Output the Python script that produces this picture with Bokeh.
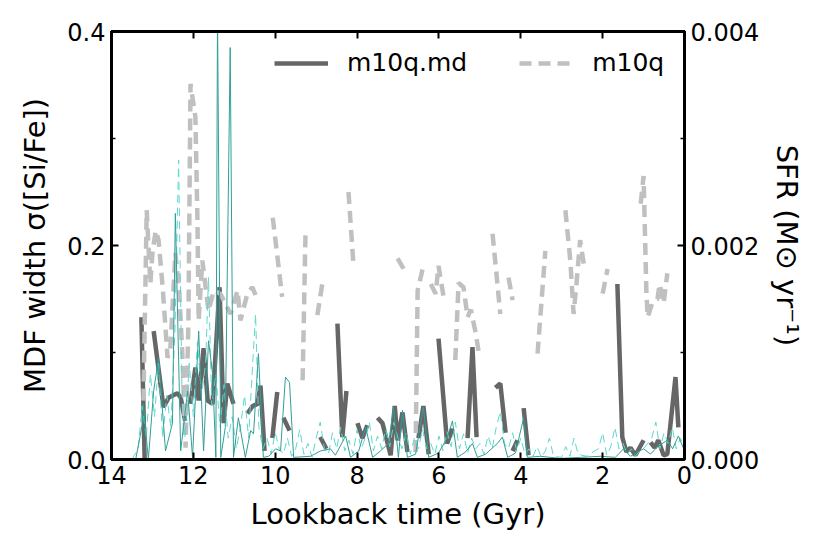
import numpy as np
from bokeh.plotting import figure
from bokeh.models import Range1d, LinearAxis, FixedTicker, Legend, LegendItem, NumeralTickFormatter
from bokeh.embed import file_html
from bokeh.resources import INLINE

nan = np.nan

# MDF width sigma([Si/Fe]) -- m10q.md (solid dark gray); NaN = gap
t_md = [13.27, 13.19, nan,
        12.97, 12.73, 12.6, 12.39, 12.31, 12.2, nan,
        12.07, 11.95, 11.87, 11.75, 11.65, 11.53, 11.36, 11.26, 11.17, 11.02, nan,
        10.68, 10.55, 10.43, 10.36, 10.26, nan,
        10.07, 9.95, nan,
        9.8, 9.65, nan,
        8.9, 8.75, nan,
        8.48, 8.36, 8.26, nan,
        7.99, 7.87, 7.75, nan,
        7.5, 7.38, 7.18, 7.08, 7.01, 6.89, 6.77, nan,
        6.5, 6.38, 6.25, nan,
        6.01, 5.8, 5.67, nan,
        5.3, 5.18, 5.08, nan,
        4.62, 4.5, 4.37, nan,
        4.2, 4.08, nan,
        3.93, 3.81, nan,
        1.64, 1.52, 1.42, 1.32, 1.2, 1.0, nan,
        0.83, 0.73, 0.64, 0.51, 0.42, 0.22, 0.15]
sig_md = [0.133, 0.0, nan,
          0.12, 0.049, 0.058, 0.062, 0.058, 0.036, nan,
          0.052, 0.086, 0.055, 0.104, 0.055, 0.052, 0.161, 0.034, 0.071, 0.052, nan,
          0.043, 0.05, 0.052, 0.069, 0.008, nan,
          0.02, 0.063, nan,
          0.039, 0.027, nan,
          0.021, 0.010, nan,
          0.127, 0.021, 0.064, nan,
          0.034, 0.02, 0.032, nan,
          0.039, 0.034, 0.004, 0.05, 0.018, 0.044, 0.007, nan,
          0.02, 0.05, 0.005, nan,
          0.113, 0.015, 0.029, nan,
          0.02, 0.105, 0.021, nan,
          0.067, 0.071, 0.025, nan,
          0.008, 0.018, nan,
          0.048, 0.004, nan,
          0.164, 0.021, 0.007, 0.011, 0.004, 0.018, nan,
          0.016, 0.011, 0.018, 0.004, 0.005, 0.077, 0.03]

# MDF width -- m10q (dashed light gray)
t_q = [13.22, 13.14, 13.05, 13.0, 12.92, 12.85, 12.75, 12.63, 12.56, 12.44, 12.35, 12.27,
       12.19, 12.12, 12.07, 11.95, 11.9, 11.87, 11.78, 11.7, 11.63, 11.5, 11.34, 11.09,
       10.92, 10.85, 10.68, 10.56, 10.43, nan,
       10.06, 9.83, nan,
       9.33, 9.26, nan,
       8.97, 8.85, nan,
       8.21, 8.09, nan,
       7.01, 6.86, nan,
       6.57, 6.52, 6.38, nan,
       6.2, 6.08, 6.01, 5.89, nan,
       5.6, 5.52, 5.4, 5.3, 5.22, 5.1, 5.02, nan,
       4.69, 4.5, nan,
       4.3, 4.2, nan,
       3.59, 3.4, nan,
       2.91, 2.79, 2.71, 2.64, 2.55, 2.45, nan,
       2.0, 1.88, nan,
       1.07, 1.0, 0.93, 0.9, 0.78, 0.66, 0.61, 0.51, 0.42]
sig_q = [0.055, 0.233, 0.164, 0.193, 0.214, 0.205, 0.161, 0.095, 0.105, 0.193, 0.161, 0.099,
         0.011, 0.13, 0.351, 0.32, 0.223, 0.13, 0.186, 0.161, 0.139, 0.158, 0.155, 0.136,
         0.158, 0.13, 0.155, 0.161, 0.149, nan,
         0.226, 0.152, nan,
         0.074, 0.212, nan,
         0.135, 0.164, nan,
         0.25, 0.183, nan,
         0.188, 0.178, nan,
         0.007, 0.158, 0.181, nan,
         0.164, 0.155, 0.181, 0.153, nan,
         0.093, 0.165, 0.161, 0.133, 0.14, 0.118, 0.098, nan,
         0.211, 0.136, nan,
         0.17, 0.149, nan,
         0.099, 0.195, nan,
         0.233, 0.186, 0.136, 0.164, 0.205, 0.18, nan,
         0.155, 0.178, nan,
         0.239, 0.265, 0.155, 0.133, 0.147, 0.15, 0.164, 0.146, 0.174]

# SFR (Msun/yr) -- m10q.md (thin teal solid)
t_sfr_md = [13.41, 13.24, 13.22, 13.1, 12.97, 12.85, 12.68, 12.51, 12.44, 12.31, 12.14, 12.02,
            11.87, 11.75, 11.63, 11.53, 11.45, 11.41, 11.33, 11.22, 11.1, 11.02, 10.9, 10.73,
            10.6, 10.53, 10.41, 10.29, 10.16, 9.99, 9.87, 9.75, 9.65, 9.55, 9.14, 8.89, 8.65,
            8.53, 8.28, 8.16, 7.96, 7.79, 7.62, 7.43, 7.23, 7.11, 6.99, 6.89, 6.77, 6.57, 6.38,
            6.25, 6.01, 5.79, 5.67, 5.55, 5.35, 5.18, 5.06, 4.86, 4.57, 4.45, 4.32, 4.13, 3.93,
            3.84, 3.52, 3.03, 2.54, 2.05, 1.69, 1.49, 1.32, 1.0, 0.83, 0.66, 0.42, 0.29, 0.15, 0.02]
sfr_md = [0.0, 0.00034, 0.00052, 0.0, 0.00064, 0.00095, 0.00008, 0.00034, 0.0023, 0.00008, 0.00064, 0.00002,
          0.0012, 0.00008, 0.00111, 0.0008, 0.00002, 0.0042, 0.00002, 0.0003, 0.00385, 0.00002, 0.00039, 0.00002,
          0.00027, 0.00024, 0.00099, 0.00002, 0.00003, 0.0001, 0.00008, 0.00077, 0.00072, 0.00002, 0.00003, 0.00008, 0.0001,
          0.00004, 0.00022, 0.00002, 0.00008, 0.0003, 0.00002, 0.00008, 0.00015, 0.00049, 0.00002, 0.00046, 0.00002, 0.00005, 0.00049,
          0.00002, 0.00006, 0.00021, 0.00036, 0.00002, 0.00007, 0.00015, 0.00002, 0.00005, 0.00015, 0.00021, 0.00002, 0.00006, 0.00039,
          0.00002, 0.00003, 0.00001, 0.00002, 0.00003, 0.00002, 0.0001, 0.00003, 0.0001, 0.00005, 0.00012, 0.00018, 0.0001, 0.00022, 0.0001]

# SFR (Msun/yr) -- m10q (thin turquoise dashed)
t_sfr_q = [13.5, 13.35, 13.25, 13.15, 13.05, 12.95, 12.85, 12.75, 12.65, 12.55, 12.45, 12.36, 12.28,
           12.2, 12.1, 12.0, 11.9, 11.8, 11.7, 11.63, 11.55, 11.45, 11.35, 11.25, 11.15, 11.05, 10.95,
           10.85, 10.75, 10.65, 10.55, 10.48, 10.4, 10.3, 10.2, 10.1, 10.0, 9.9, 9.8, 9.7, 9.6, 9.5,
           9.4, 9.3, 9.2, 9.1, 9.0, 8.9, 8.8, 8.7, 8.6, 8.5, 8.4, 8.3, 8.2, 8.1, 8.0, 7.9, 7.8, 7.7,
           7.6, 7.5, 7.4, 7.3, 7.2, 7.1, 7.0, 6.9, 6.8, 6.7, 6.6, 6.5, 6.4, 6.3, 6.2, 6.1, 6.0, 5.9,
           5.8, 5.7, 5.6, 5.5, 5.4, 5.3, 5.2, 5.1, 5.0, 4.9, 4.8, 4.7, 4.6, 4.5, 4.4, 4.3, 4.2, 4.1,
           4.0, 3.9, 3.8, 3.7, 3.6, 3.5, 3.4, 3.3, 3.2, 3.0, 2.9, 2.8, 2.7, 2.6, 2.4, 2.2, 2.1, 2.0,
           1.9, 1.8, 1.7, 1.6, 1.5, 1.4, 1.3, 1.2, 1.1, 1.0, 0.9, 0.8, 0.7, 0.6, 0.5, 0.4, 0.3, 0.2,
           0.1, 0.0]
sfr_q = [0.0, 0.0001, 0.0005, 0.0002, 0.0008, 0.0004, 0.0009, 0.0002, 0.0006, 0.0003, 0.0012, 0.0028, 0.0007,
         0.0002, 0.0009, 0.0004, 0.0011, 0.0006, 0.0009, 0.0017, 0.0005, 0.0008, 0.0003, 0.0007, 0.0002, 0.0004, 0.0001,
         0.0003, 0.0006, 0.0002, 0.0009, 0.00136, 0.0003, 0.0001, 0.0002, 0.00005, 0.00025, 0.0001, 0.00005, 0.0002, 0.00003, 0.0001,
         0.00028, 0.00005, 0.00015, 0.00002, 0.0002, 0.00035, 0.0001, 0.00005, 0.00025, 0.0001, 0.0003, 0.00008, 0.00018, 0.00005, 0.00028, 0.0001, 0.0002, 0.00035,
         0.00008, 0.00022, 0.0001, 0.00028, 0.00012, 0.00035, 0.0002, 0.0001, 0.00025, 0.00005, 0.0002, 0.0001, 0.00028, 0.0001, 0.00015, 0.00005, 0.00022, 0.00008,
         0.00026, 0.00012, 0.00035, 0.0001, 0.00024, 0.00006, 0.0002, 0.0001, 0.00015, 0.00005, 0.00022, 0.0001, 0.0003, 0.00045, 0.00015, 0.0001, 0.00025, 0.00008,
         0.0002, 0.00005, 0.0001, 0.00003, 0.00012, 0.00002, 0.00008, 0.0002, 0.00003, 0.00002, 0.00012, 0.00003, 0.0002, 0.00005, 0.00003, 0.00008, 0.0001, 0.00025,
         0.00004, 0.00012, 0.0003, 0.0001, 0.00015, 0.00005, 0.0001, 0.00003, 0.00008, 0.0001, 0.00015, 0.0002, 0.00035, 0.0001, 0.00025, 0.00015, 0.0003, 0.0001,
         0.0002, 0.0001]

x_ticks = [0, 2, 4, 6, 8, 10, 12, 14]
y_ticks = [0.0, 0.2, 0.4]
y_minor = [0.1, 0.3]
sfr_ticks = [0.0, 0.002, 0.004]
sfr_minor = [0.001, 0.003]

FONT = "DejaVu Sans"

p = figure(frame_width=573, frame_height=428,
           x_range=Range1d(14, 0), y_range=Range1d(0, 0.4),
           output_backend="svg", toolbar_location=None,
           min_border_left=111, min_border_right=130, min_border_top=31, min_border_bottom=80,
           background_fill_color="white", border_fill_color="white")
p.extra_y_ranges = {"sfr": Range1d(0, 0.004)}
p.grid.visible = False
p.outline_line_color = "black"
p.outline_line_width = 3

def style_axis(ax):
    ax.axis_line_color = "black"
    ax.axis_line_width = 3
    ax.major_tick_in = 7
    ax.major_tick_out = 0
    ax.minor_tick_in = 4
    ax.minor_tick_out = 0
    ax.major_tick_line_width = 2
    ax.minor_tick_line_width = 1.5
    ax.major_tick_line_color = "black"
    ax.minor_tick_line_color = "black"
    ax.major_label_text_font = FONT
    ax.major_label_text_font_size = "24px"
    ax.major_label_text_color = "black"
    ax.axis_label_text_font = FONT
    ax.axis_label_text_font_size = "29px"
    ax.axis_label_text_font_style = "normal"
    ax.axis_label_text_color = "black"

xax = p.xaxis[0]
xax.ticker = FixedTicker(ticks=x_ticks, minor_ticks=[])
xax.axis_label = "Lookback time (Gyr)"
style_axis(xax)
xax.major_label_standoff = 6
xax.axis_label_standoff = 10

yax = p.yaxis[0]
yax.ticker = FixedTicker(ticks=y_ticks, minor_ticks=y_minor)
yax.formatter = NumeralTickFormatter(format="0.0")
yax.axis_label = "MDF width σ([Si/Fe])"
style_axis(yax)
yax.major_label_standoff = 6
yax.axis_label_standoff = 12

top = LinearAxis(ticker=FixedTicker(ticks=x_ticks, minor_ticks=[]),
                 major_label_overrides={t: "" for t in x_ticks})
style_axis(top)
p.add_layout(top, "above")

rax = LinearAxis(y_range_name="sfr", ticker=FixedTicker(ticks=sfr_ticks, minor_ticks=sfr_minor),
                 formatter=NumeralTickFormatter(format="0.000"),
                 axis_label="SFR (M⊙ yr⁻¹)")
style_axis(rax)
rax.major_label_standoff = 6
rax.axis_label_standoff = 8
p.add_layout(rax, "right")

r_md = p.line(np.array(t_md), np.array(sig_md), line_color="#666666", line_width=4.5)
r_q = p.line(np.array(t_q), np.array(sig_q), line_color="#c0c0c0", line_width=4.5, line_dash="12 7")
p.line(np.array(t_sfr_q), np.array(sfr_q), y_range_name="sfr", line_color="#5cd8cf", line_width=1, line_dash="8 5")
p.line(np.array(t_sfr_md), np.array(sfr_md), y_range_name="sfr", line_color="#329e97", line_width=1)

legend = Legend(items=[LegendItem(label="m10q.md", renderers=[r_md]),
                       LegendItem(label="m10q", renderers=[r_q])],
                orientation="horizontal", location=(163, 382),
                border_line_color=None, background_fill_alpha=0,
                label_text_font=FONT, label_text_font_size="25px", label_text_color="black",
                glyph_width=54, glyph_height=28, label_height=28,
                label_standoff=19, spacing=52, padding=0, margin=0)
p.add_layout(legend, "center")

open("out.html", "w").write(file_html(p, INLINE))
